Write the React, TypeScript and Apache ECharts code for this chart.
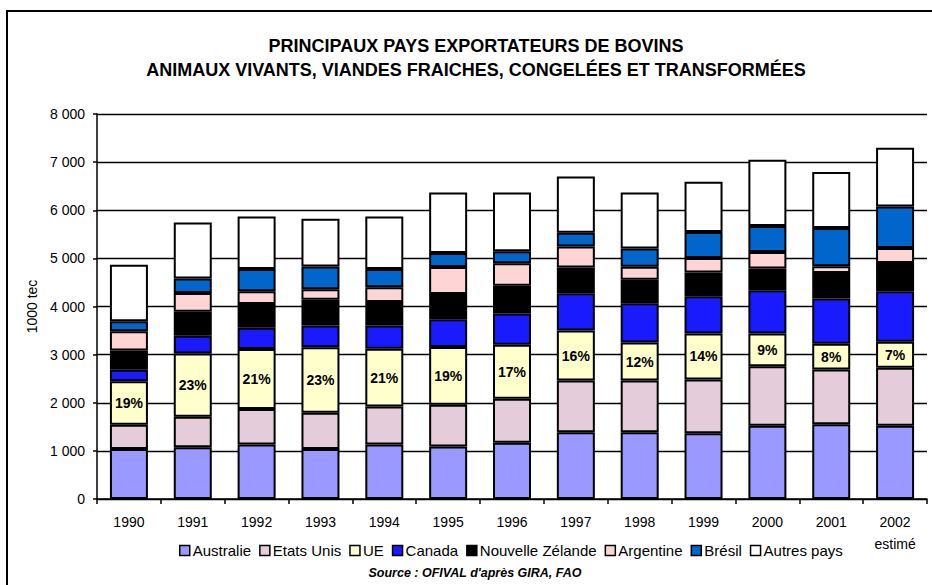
import React, { useEffect, useRef } from "react";
import * as echarts from "echarts";

const FONT = "'Liberation Sans', Arial, sans-serif";

const years = ["1990", "1991", "1992", "1993", "1994", "1995", "1996", "1997", "1998", "1999", "2000", "2001", "2002"];
const xTickLabels = ["1990", "1991", "1992", "1993", "1994", "1995", "1996", "1997", "1998", "1999", "2000", "2001", "2002\nestimé"];

const australie = [1040, 1075, 1130, 1040, 1130, 1090, 1170, 1385, 1385, 1365, 1520, 1555, 1520];
const etatsUnis = [505, 635, 740, 750, 790, 870, 915, 1075, 1075, 1120, 1240, 1135, 1205];
const ue = [900, 1315, 1245, 1365, 1200, 1200, 1120, 1040, 790, 955, 680, 535, 540];
const canada = [240, 365, 445, 450, 485, 575, 650, 775, 815, 775, 900, 940, 1050];
const nouvelleZelande = [400, 500, 490, 535, 490, 525, 575, 535, 490, 490, 450, 530, 590];
const argentine = [400, 390, 265, 220, 305, 560, 470, 435, 270, 305, 345, 140, 310];
const bresil = [210, 300, 465, 470, 380, 290, 250, 285, 380, 540, 540, 795, 865];
const autresPays = [1170, 1165, 1090, 995, 1090, 1260, 1220, 1170, 1165, 1040, 1375, 1165, 1220];
const uePct = [19, 23, 21, 23, 21, 19, 17, 16, 12, 14, 9, 8, 7];

const seriesNames = ["Australie", "Etats Unis", "UE", "Canada", "Nouvelle Zélande", "Argentine", "Brésil", "Autres pays"];
const seriesData = [australie, etatsUnis, ue, canada, nouvelleZelande, argentine, bresil, autresPays];
const seriesColors = ["#9999FF", "#E4CCDB", "#FFFFCC", "#1A1AFF", "#000000", "#FFD4D4", "#0066CC", "#FFFFFF"];

const titleLines = [
  "PRINCIPAUX PAYS EXPORTATEURS DE BOVINS",
  "ANIMAUX VIVANTS, VIANDES FRAICHES, CONGELÉES ET TRANSFORMÉES",
];
const sourceText = "Source : OFIVAL d'après GIRA, FAO";
const yAxisName = "1000 tec";

export default function App() {
  const ref = useRef<HTMLDivElement>(null);
  useEffect(() => {
    if (!ref.current) return;
    const chart = echarts.init(ref.current, null, { renderer: "svg" });
    const series = seriesNames.map((name, i) => ({
      name,
      type: "bar",
      stack: "total",
      barWidth: 38,
      data: seriesData[i],
      itemStyle: { color: seriesColors[i], borderColor: "#000", borderWidth: 2 },
      label:
        name === "UE"
          ? {
              show: true,
              position: "inside",
              formatter: (p: any) => uePct[p.dataIndex] + "%",
              color: "#000",
              fontWeight: "bold",
              fontSize: 14,
              fontFamily: FONT,
            }
          : { show: false },
      emphasis: { disabled: true },
    }));
    chart.setOption({
      animation: false,
      backgroundColor: "#fff",
      grid: { left: 97, top: 114, width: 830, height: 385 },
      graphic: [
        {
          type: "rect",
          shape: { x: 7, y: 11, width: 940, height: 620 },
          style: { fill: "none", stroke: "#000", lineWidth: 2 },
          z: 100,
        },
        {
          type: "text",
          x: 476,
          y: 46,
          style: {
            text: titleLines[0],
            fill: "#000",
            font: `bold 18px ${FONT}`,
            textAlign: "center",
            textVerticalAlign: "middle",
          },
        },
        {
          type: "text",
          x: 476,
          y: 70,
          style: {
            text: titleLines[1],
            fill: "#000",
            font: `bold 18px ${FONT}`,
            textAlign: "center",
            textVerticalAlign: "middle",
          },
        },
        {
          type: "text",
          x: 475,
          y: 573,
          style: {
            text: sourceText,
            fill: "#000",
            font: `italic bold 12.5px ${FONT}`,
            textAlign: "center",
            textVerticalAlign: "middle",
          },
        },
      ],
      legend: {
        data: seriesNames.map((name) => ({
          name,
          itemStyle: { borderColor: "#000", borderWidth: 1.5 },
        })),
        left: 174,
        top: 538,
        itemWidth: 10,
        itemHeight: 10,
        itemGap: 8,
        icon: "rect",
        itemStyle: { borderColor: "#000", borderWidth: 1.5 },
        textStyle: { fontSize: 15, color: "#000", fontFamily: FONT, padding: [0, 0, 0, -2] },
      },
      xAxis: {
        type: "category",
        data: xTickLabels,
        axisLine: { lineStyle: { color: "#000", width: 1.5 } },
        axisTick: { show: true, length: 5, lineStyle: { color: "#000", width: 1.5 } },
        axisLabel: { color: "#000", fontSize: 14, fontFamily: FONT, margin: 12, lineHeight: 22 },
      },
      yAxis: {
        type: "value",
        min: 0,
        max: 8000,
        interval: 1000,
        name: yAxisName,
        nameLocation: "middle",
        nameRotate: 90,
        nameGap: 50,
        nameTextStyle: { color: "#000", fontSize: 14, fontFamily: FONT },
        axisLine: { show: true, lineStyle: { color: "#000", width: 1.5 } },
        axisTick: { show: true, length: 4, lineStyle: { color: "#000", width: 1.5 } },
        axisLabel: {
          color: "#000",
          fontSize: 14,
          fontFamily: FONT,
          margin: 12,
          formatter: (v: number) => (v >= 1000 ? Math.floor(v / 1000) + " " + String(v % 1000).padStart(3, "0") : String(v)),
        },
        splitLine: { show: true, lineStyle: { color: "#000", width: 1.3 } },
      },
      series,
    });
    return () => chart.dispose();
  }, []);
  return <div ref={ref} style={{ position: "absolute", left: 0, top: 0, width: 932, height: 585 }} />;
}
